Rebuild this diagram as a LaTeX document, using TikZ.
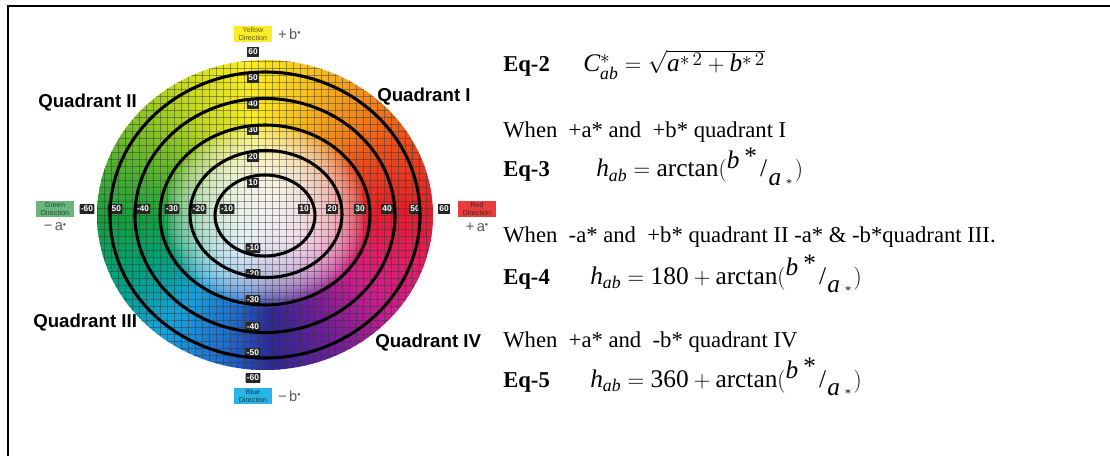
\documentclass[tikz,border=0pt]{standalone}
\usepackage{fontspec}
\setmainfont{Liberation Serif}
\setsansfont{Liberation Sans}
\usepackage{amsmath}
\usepackage{xcolor}
\usepackage{graphicx}
\usetikzlibrary{positioning}

% hue colours of the wheel
\definecolor{hueR}{RGB}{226,30,42}
\definecolor{hueRO}{RGB}{234,80,28}
\definecolor{hueO}{RGB}{242,138,26}
\definecolor{hueYO}{RGB}{248,200,32}
\definecolor{hueY}{RGB}{250,236,36}
\definecolor{hueYG}{RGB}{196,216,34}
\definecolor{hueLG}{RGB}{118,188,40}
\definecolor{hueG}{RGB}{22,158,62}
\definecolor{hueTG}{RGB}{0,160,124}
\definecolor{hueC}{RGB}{24,160,220}
\definecolor{hueB}{RGB}{32,104,200}
\definecolor{hueI}{RGB}{46,40,150}
\definecolor{hueP}{RGB}{112,30,152}
\definecolor{hueM}{RGB}{202,30,140}
\definecolor{huePR}{RGB}{224,30,100}
\definecolor{yellowbox}{RGB}{250,236,40}
\definecolor{greenbox}{RGB}{104,182,124}
\definecolor{redbox}{RGB}{230,62,62}
\definecolor{bluebox}{RGB}{40,180,230}

\newcommand{\mv}[1]{\mathit{#1}}
\newcommand{\bovera}{\raisebox{0.35em}{\textit{b}\kern0.2em\raisebox{0.15em}{*}}\kern0.12em/\kern0.05em\raisebox{-0.35em}{\textit{a}\kern0.2em\raisebox{-0.05em}{\small*}}\kern0.1em}
\newcommand{\sdot}{\raisebox{0.55ex}{\scalebox{0.45}{$\bullet$}}}

\begin{document}
\begin{tikzpicture}[x=0.75pt, y=-0.75pt,
    numbox/.style={rectangle, fill=black!85, text=white, font=\sffamily\bfseries\fontsize{6.3}{7}\selectfont, inner sep=0.9pt, minimum height=7.4pt, rounded corners=0.4pt},
    dirbox/.style={rectangle, font=\sffamily\fontsize{5.4}{5.8}\selectfont, align=center, inner sep=0.5pt, minimum width=29pt, minimum height=12pt},
    quad/.style={font=\sffamily\bfseries\fontsize{14}{16}\selectfont, anchor=west, inner sep=0pt},
    axsign/.style={font=\sffamily\fontsize{11}{12}\selectfont, text=black!65, inner sep=0pt},
    ring/.style={draw=black, line width=2.3pt},
    gridline/.style={draw=black!80, line width=0.5pt, opacity=0.45},
    eqtag/.style={font=\bfseries\fontsize{17}{20}\selectfont, anchor=base west, inner sep=0pt},
    eqtext/.style={font=\fontsize{17}{20}\selectfont, anchor=base west, inner sep=0pt},
    formula/.style={font=\fontsize{19}{22}\selectfont, anchor=base west, inner sep=0pt}
]
\useasboundingbox (0,0) rectangle (1110,456);

% Frame
\draw[line width=2.2pt, line join=miter] (8,456) -- (8,6) -- (1110,6);

% Wheel centre
\coordinate (wc) at (265,215);

% Hue wedges
\foreach \a/\b/\ca/\cb in {0/30/hueR/hueRO, 30/50/hueRO/hueO, 50/75/hueO/hueYO,
    75/95/hueYO/hueY, 95/120/hueY/hueYG, 120/145/hueYG/hueLG, 145/180/hueLG/hueG,
    180/205/hueG/hueTG, 205/230/hueTG/hueC, 230/255/hueC/hueB, 255/272/hueB/hueI,
    272/295/hueI/hueP, 295/320/hueP/hueM, 320/340/hueM/huePR, 340/360/huePR/hueR}{
  \foreach \mx in {0,10,...,90}{
    \pgfmathsetmacro\ang{-(\a+(\b-\a)*\mx/100)}
    \pgfmathsetmacro\wd{-((\b-\a)/10+0.8)}
    \fill[\cb!\mx!\ca] (wc) -- ++(\ang:168 and 155)
      arc[start angle=\ang, delta angle=\wd, x radius=168, y radius=155] -- cycle;
  }
}

% White centre
\foreach \f in {0.0125,0.025,...,0.6}{
  \fill[white, opacity=0.065] (wc) ellipse[x radius={168*\f}, y radius={155*\f}];
}

% Grid
\begin{scope}
  \clip (wc) ellipse[x radius=168, y radius=155];
  \foreach \i in {-24,...,24}{
    \draw[gridline] (265+7*\i,55) -- (265+7*\i,375);
    \draw[gridline] (92,215+7*\i) -- (438,215+7*\i);
  }
\end{scope}

% Axis numbers
\foreach \v/\px [count=\n] in {-60/87, -50/115, -40/143, -30/172, -20/199, -10/227,
    10/304, 20/332, 30/360, 40/387, 50/415, 60/444}{
  \node[numbox] (h\n) at (\px,209) {\v};
}
\foreach \v/\py [count=\n] in {60/52, 50/78, 40/104, 30/130, 20/157, 10/183,
    -10/248, -20/274, -30/300, -40/327, -50/353, -60/378}{
  \node[numbox] (v\n) at (253,\py) {\v};
}

% Rings
\draw[ring] (265,215.5) ellipse[x radius=50, y radius=40.5];
\draw[ring] (266,214) ellipse[x radius=76, y radius=63.5];
\draw[ring] (265,215) ellipse[x radius=105, y radius=90];
\draw[ring] (265,215.5) ellipse[x radius=130, y radius=117];
\draw[ring] (265,215) ellipse[x radius=155, y radius=143];

% Directions
\node[dirbox, fill=yellowbox, text=yellowbox!40!black] (yel) at (253,34) {Yellow\\Direction};
\node[axsign, right=4pt of yel] (pb) {+\,b\sdot};
\node[dirbox, fill=bluebox, text=bluebox!35!black] (blu) at (253,396) {Blue\\Direction};
\node[axsign, right=4pt of blu] (mb) {\textminus\,b\sdot};
\node[dirbox, fill=greenbox, text=greenbox!40!black] (grn) at (55,209) {Green\\Direction};
\node[axsign] (ma) at (55,227) {\textminus\,a\sdot};
\node[dirbox, fill=redbox, text=redbox!40!black] (red) at (477,209) {Red\\Direction};
\node[axsign] (pa) at (477,227) {+\,a\sdot};

% Quadrants
\node[quad] (q2) at (38,103) {Quadrant II};
\node[quad] (q1) at (377,97) {Quadrant I};
\node[quad] (q3) at (33,323) {Quadrant III};
\node[quad] (q4) at (375,343) {Quadrant IV};

% Equations
\node[eqtag] (eq2tag) at (503,72) {Eq-2};
\node[formula] (eq2) at (583,72) {$\mv{C}^{*}_{\mv{ab}} = \sqrt{\mv{a}^{*\,2}+\mv{b}^{*\,2}}$};
\node[eqtext] (when1) at (503,138) {When\ \ +a* and\ \ +b* quadrant I};
\node[eqtag] (eq3tag) at (503,177) {Eq-3};
\node[formula] (eq3) at (596,177) {$\mv{h}_{\mv{ab}}=\mathrm{arctan}($\bovera$)$};
\node[eqtext] (when2) at (503,242) {When\ \ -a* and\ \ +b* quadrant II -a* \& -b*quadrant III.};
\node[eqtag] (eq4tag) at (503,284) {Eq-4};
\node[formula] (eq4) at (590,284) {$\mv{h}_{\mv{ab}}=\mathrm{180}+\mathrm{arctan}($\bovera$)$};
\node[eqtext] (when3) at (503,347) {When\ \ +a* and\ \ -b* quadrant IV};
\node[eqtag] (eq5tag) at (503,387) {Eq-5};
\node[formula] (eq5) at (590,387) {$\mv{h}_{\mv{ab}}=\mathrm{360}+\mathrm{arctan}($\bovera$)$};

\end{tikzpicture}
\end{document}
